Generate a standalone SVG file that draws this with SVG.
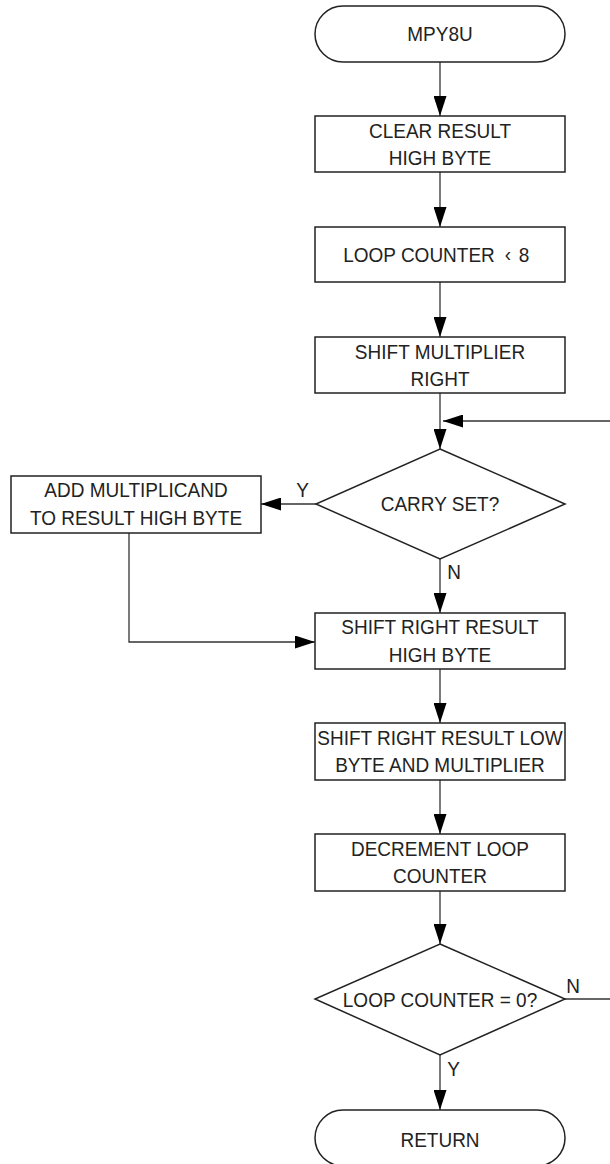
<svg xmlns="http://www.w3.org/2000/svg" width="610" height="1164" viewBox="0 0 610 1164">
<defs>
<marker id="arr" markerUnits="userSpaceOnUse" markerWidth="20" markerHeight="13" refX="20" refY="6.5" orient="auto">
<path d="M0,0 L20,6.5 L0,13 z" fill="#000"/>
</marker>
<style>
.box{fill:#fff;stroke:#222;stroke-width:1.5}
.t{font-family:"Liberation Sans",Arial,sans-serif;font-size:20px;fill:#222;text-anchor:middle;transform-box:fill-box;transform-origin:center;transform:scaleX(0.95)}
.lbl{font-family:"Liberation Sans",Arial,sans-serif;font-size:20px;fill:#222;transform-box:fill-box;transform-origin:center;transform:scaleX(0.95)}
.c{fill:none;stroke:#333;stroke-width:1.3}
.ca{fill:none;stroke:#333;stroke-width:1.3;marker-end:url(#arr)}
</style>
</defs>
<rect width="610" height="1164" fill="#fff"/>
<g id="connectors">
<path class="ca" d="M440,62 V116"/>
<path class="ca" d="M440,172 V227"/>
<path class="ca" d="M440,282 V337"/>
<path class="ca" d="M440,393 V449"/>
<path class="ca" d="M610,421 H443"/>
<path class="ca" d="M316,504 H261"/>
<path class="ca" d="M440,559 V613"/>
<path class="ca" d="M129,533 V642 H315"/>
<path class="ca" d="M440,669 V723"/>
<path class="ca" d="M440,780 V834"/>
<path class="ca" d="M440,891 V944"/>
<path class="ca" d="M440,1055 V1110"/>
<path class="c" d="M565,999 H610"/>
<text class="lbl" x="296" y="497">Y</text>
<text class="lbl" x="447" y="579">N</text>
<text class="lbl" x="566" y="993">N</text>
<text class="lbl" x="447" y="1076">Y</text>
</g>
<g id="start">
<rect class="box" x="315" y="6" width="250" height="56" rx="28"/>
<text class="t" x="440" y="41">MPY8U</text>
</g>
<g id="clear">
<rect class="box" x="315" y="116" width="250" height="56"/>
<text class="t" x="440" y="138">CLEAR RESULT</text>
<text class="t" x="440" y="165">HIGH BYTE</text>
</g>
<g id="loopcounter">
<rect class="box" x="315" y="227" width="250" height="55"/>
<text class="t" x="419" y="262">LOOP COUNTER</text>
<text class="t" x="508" y="261" font-size="15">‹</text>
<text class="t" x="524" y="262">8</text>
</g>
<g id="shiftmult">
<rect class="box" x="315" y="337" width="250" height="56"/>
<text class="t" x="440" y="359">SHIFT MULTIPLIER</text>
<text class="t" x="440" y="386">RIGHT</text>
</g>
<g id="carry">
<polygon class="box" points="440,449 565,504 440,559 316,504"/>
<text class="t" x="440" y="511">CARRY SET?</text>
</g>
<g id="add">
<rect class="box" x="11" y="476" width="250" height="57"/>
<text class="t" x="136" y="497">ADD MULTIPLICAND</text>
<text class="t" x="136" y="525">TO RESULT HIGH BYTE</text>
</g>
<g id="shifthigh">
<rect class="box" x="315" y="613" width="250" height="56"/>
<text class="t" x="440" y="634">SHIFT RIGHT RESULT</text>
<text class="t" x="440" y="662">HIGH BYTE</text>
</g>
<g id="shiftlow">
<rect class="box" x="315" y="723" width="250" height="57"/>
<text class="t" x="440" y="745">SHIFT RIGHT RESULT LOW</text>
<text class="t" x="440" y="772">BYTE AND MULTIPLIER</text>
</g>
<g id="decrement">
<rect class="box" x="315" y="834" width="250" height="57"/>
<text class="t" x="440" y="856">DECREMENT LOOP</text>
<text class="t" x="440" y="883">COUNTER</text>
</g>
<g id="zero">
<polygon class="box" points="440,944 565,999 440,1055 315,999"/>
<text class="t" x="440" y="1007">LOOP COUNTER = 0?</text>
</g>
<g id="return">
<rect class="box" x="315" y="1110" width="250" height="56" rx="28"/>
<text class="t" x="440" y="1147">RETURN</text>
</g>
</svg>
